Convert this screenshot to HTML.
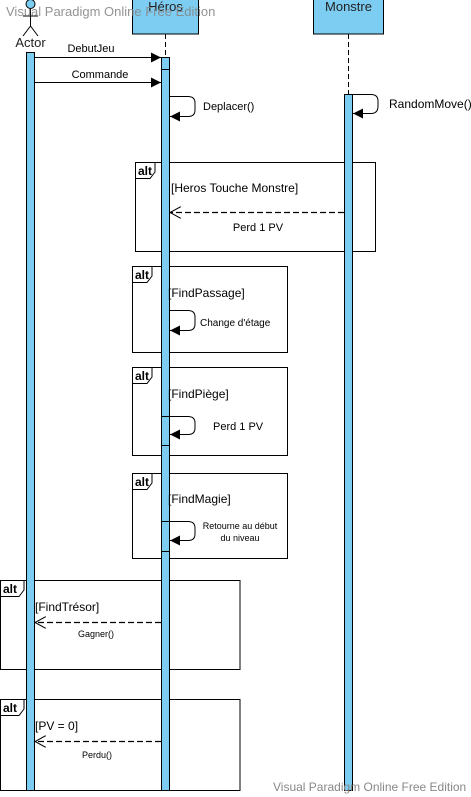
<!DOCTYPE html>
<html><head><meta charset="utf-8"><style>
html,body{margin:0;padding:0;background:#fff;}
svg{display:block;font-family:"Liberation Sans",Arial,sans-serif;}
</style></head><body>
<svg width="471" height="797" viewBox="0 0 471 797" xmlns="http://www.w3.org/2000/svg">
<defs>
<marker id="fa" markerWidth="10" markerHeight="10" refX="10" refY="5" orient="auto" markerUnits="userSpaceOnUse"><path d="M0,0 L10,5 L0,10 z" fill="#000"/></marker>
<marker id="oa" markerWidth="12" markerHeight="12" refX="11" refY="6" orient="auto" markerUnits="userSpaceOnUse"><path d="M0,0 L11,6 L0,12" fill="none" stroke="#000" stroke-width="1"/></marker>
</defs>
<rect width="471" height="797" fill="#fff"/>
<line x1="165.5" y1="34" x2="165.5" y2="57" stroke="#000" stroke-dasharray="5,3"/>
<line x1="348.5" y1="34" x2="348.5" y2="94" stroke="#000" stroke-dasharray="5,3"/>
<rect x="132.5" y="-1" width="66" height="35" fill="#7dcdf3" stroke="#000"/>
<text x="165.5" y="11" font-size="13" text-anchor="middle" fill="#222">Héros</text>
<rect x="313.5" y="-1" width="70" height="35" fill="#7dcdf3" stroke="#000"/>
<text x="348.5" y="11" font-size="13" text-anchor="middle" fill="#222">Monstre</text>
<circle cx="30.5" cy="4" r="4.5" fill="#7dcdf3" stroke="#000"/>
<line x1="30.5" y1="9" x2="30.5" y2="26" stroke="#000"/>
<line x1="23" y1="16" x2="38" y2="16" stroke="#000"/>
<line x1="30.5" y1="26" x2="23" y2="36" stroke="#000"/>
<line x1="30.5" y1="26" x2="38" y2="36" stroke="#000"/>
<text x="30.5" y="47" font-size="13" text-anchor="middle" fill="#222">Actor</text>
<g fill="none" stroke="#000" stroke-width="1">
<rect x="135.5" y="162.5" width="240" height="89"/>
<rect x="132.5" y="266.5" width="155" height="86"/>
<rect x="132.5" y="367.5" width="155" height="88"/>
<rect x="132.5" y="473.5" width="155" height="85"/>
<rect x="0.5" y="580.5" width="239.5" height="89"/>
<rect x="0.5" y="699.5" width="239.5" height="91"/>
<path d="M135.5,178.5 H150 L155,172 V162.5"/>
<path d="M132.5,282.5 H147 L152,276 V266.5"/>
<path d="M132.5,383.5 H147 L152,377 V367.5"/>
<path d="M132.5,489.5 H147 L152,483 V473.5"/>
<path d="M0.5,596.5 H19 L24,590 V580.5"/>
<path d="M0.5,715.5 H19 L24,709 V699.5"/>
</g>
<g font-size="12" font-weight="bold" fill="#000">
<text x="138" y="175">alt</text>
<text x="135" y="279">alt</text>
<text x="135" y="380">alt</text>
<text x="135" y="486">alt</text>
<text x="3" y="593">alt</text>
<text x="3" y="712">alt</text>
</g>
<rect x="26.5" y="52.5" width="8" height="738" fill="#7dcdf3" stroke="#000"/>
<rect x="161.5" y="57.5" width="8" height="733" fill="#7dcdf3" stroke="#000"/>
<line x1="161.5" y1="69.5" x2="169.5" y2="69.5" stroke="#000"/>
<rect x="344.5" y="94.5" width="8" height="696" fill="#7dcdf3" stroke="#000"/>
<g stroke="#000" stroke-width="1">
<line x1="161.5" y1="416.5" x2="169.5" y2="416.5"/><line x1="161.5" y1="445.5" x2="169.5" y2="445.5"/>
<line x1="161.5" y1="521.5" x2="169.5" y2="521.5"/><line x1="161.5" y1="551.5" x2="169.5" y2="551.5"/>
</g>
<line x1="34" y1="57.5" x2="161" y2="57.5" stroke="#000" marker-end="url(#fa)"/>
<text x="91" y="52" font-size="11" text-anchor="middle" fill="#000">DebutJeu</text>
<line x1="34" y1="82.5" x2="161" y2="82.5" stroke="#000" marker-end="url(#fa)"/>
<text x="100" y="78" font-size="11" text-anchor="middle" fill="#000">Commande</text>
<g fill="none" stroke="#000">
<path d="M169.5,96.5 H188 Q195,96.5 195,103 V110 Q195,116.5 188,116.5 H170" marker-end="url(#fa)"/>
<path d="M352.5,94.5 H371 Q378,94.5 378,101 V106 Q378,113.5 371,113.5 H353" marker-end="url(#fa)"/>
<path d="M169.5,310.5 H188 Q195,310.5 195,317 V324 Q195,330.5 188,330.5 H170" marker-end="url(#fa)"/>
<path d="M169.5,416.5 H188 Q195,416.5 195,423 V428 Q195,434.5 188,434.5 H170" marker-end="url(#fa)"/>
<path d="M169.5,521.5 H188 Q195,521.5 195,528 V534 Q195,540.5 188,540.5 H170" marker-end="url(#fa)"/>
</g>
<text x="203" y="110" font-size="11" fill="#000">Deplacer()</text>
<text x="389" y="108" font-size="12" fill="#000">RandomMove()</text>
<text x="200" y="326" font-size="10" fill="#000">Change d'étage</text>
<text x="213" y="430" font-size="11" fill="#000">Perd 1 PV</text>
<text x="240" y="529" font-size="9" text-anchor="middle" fill="#000">Retourne au début</text>
<text x="240" y="541" font-size="9" text-anchor="middle" fill="#000">du niveau</text>
<g font-size="12" fill="#000">
<text x="171" y="192">[Heros Touche Monstre]</text>
<text x="168" y="297">[FindPassage]</text>
<text x="168" y="398">[FindPiège]</text>
<text x="168" y="503">[FindMagie]</text>
<text x="35" y="611">[FindTrésor]</text>
<text x="35" y="730">[PV = 0]</text>
</g>
<g stroke="#000" stroke-dasharray="6,3" fill="none" stroke-width="1.2">
<line x1="344" y1="212.5" x2="170" y2="212.5" marker-end="url(#oa)"/>
<line x1="161" y1="622.5" x2="35" y2="622.5" marker-end="url(#oa)"/>
<line x1="161" y1="741.5" x2="35" y2="741.5" marker-end="url(#oa)"/>
</g>
<text x="258" y="231" font-size="11" text-anchor="middle" fill="#000">Perd 1 PV</text>
<text x="96" y="637" font-size="9" text-anchor="middle" fill="#000">Gagner()</text>
<text x="97" y="758" font-size="9" text-anchor="middle" fill="#000">Perdu()</text>
<text x="6" y="16" font-size="13" fill="#888" opacity="0.9">Visual Paradigm Online Free Edition</text>
<text x="273" y="791" font-size="12" fill="#888">Visual Paradigm Online Free Edition</text>
</svg>
</body></html>
